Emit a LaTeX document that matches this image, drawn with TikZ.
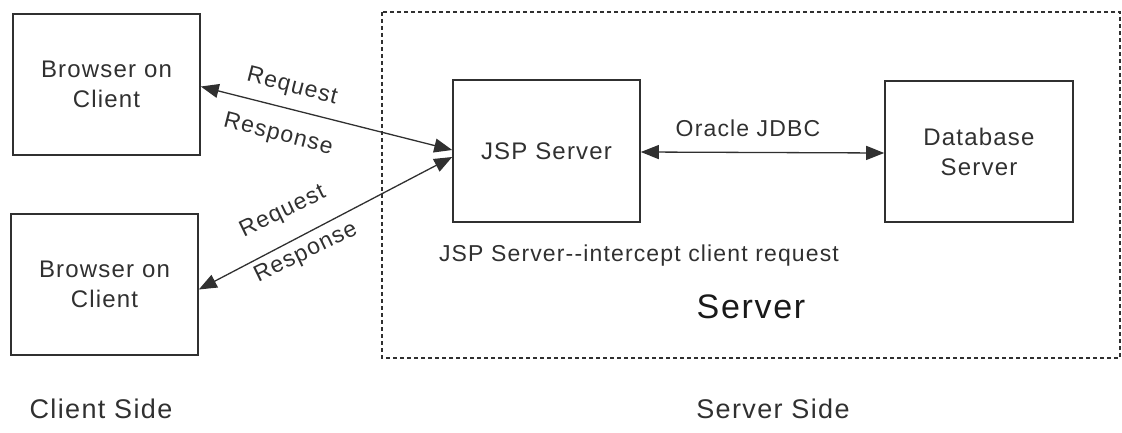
\documentclass[tikz,border=0pt]{standalone}
\usepackage{fontspec}
\setmainfont{Liberation Sans}[LetterSpace=5]
\usetikzlibrary{arrows.meta,calc}
\definecolor{ink}{HTML}{303030}
\tikzset{
  box/.style={draw=ink, line width=1.6pt, minimum width=187pt, minimum height=141pt, inner sep=0pt, align=center, text=ink, font=\fontsize{24}{30}\selectfont},
  conn/.style={draw=ink, line width=1.3pt, {Triangle[length=18pt,width=14pt]}-{Triangle[length=18pt,width=14pt]}},
  lbl/.style={text=ink, font=\fontsize{23}{26}\selectfont, inner sep=0pt},
  big/.style={text=ink, font=\fontsize{27}{30}\selectfont, inner sep=0pt},
}
\begin{document}
\begin{tikzpicture}[x=1pt,y=-1pt]
\useasboundingbox (0,0) rectangle (1122,433);
% server area
\draw[ink, line width=1.3pt, dash pattern=on 4pt off 3pt] (382,12) rectangle (1120,358);
% boxes
\node[box] (b1) at (106.5,84.5) {Browser on\\Client};
\node[box] (b2) at (104.5,284.5) {Browser on\\Client};
\node[box, minimum height=142pt] (jsp) at (546.5,151) {JSP Server};
\node[box, minimum width=188pt] (db) at (979,151.5) {Database\\Server};
% connectors
\draw[conn] ([yshift=-2pt]b1.east) -- ([yshift=1pt]jsp.west);
\draw[conn] ([yshift=-6pt]jsp.west) -- ([yshift=-5pt]b2.east);
\draw[conn] ([yshift=-1pt]jsp.east) -- ([yshift=-1.5pt]db.west);
% labels
\node[lbl, rotate=-14.4] (rq1) at (292,87) {Request};
\node[lbl, rotate=-14.4] (rs1) at (278,135) {Response};
\node[lbl, rotate=26] (rq2) at (283,212) {Request};
\node[lbl, rotate=26] (rs2) at (306,253) {Response};
\node[lbl] (jdbc) at (748,128) {Oracle JDBC};
\node[lbl] (icpt) at (639,256) {JSP Server{-}{-}intercept client request};
\node[text=black!90, font=\fontsize{34}{40}\selectfont, inner sep=0pt] (srv) at (751,307) {Server};
\node[big] (cs) at (101,409) {Client Side};
\node[big] (ss) at (773,409) {Server Side};
\end{tikzpicture}
\end{document}
